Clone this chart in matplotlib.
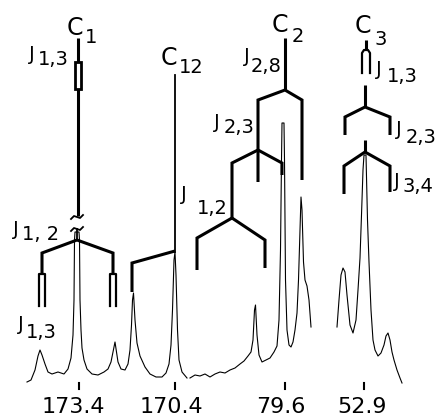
import matplotlib
matplotlib.use('Agg')
import matplotlib.pyplot as plt
from matplotlib.patches import Rectangle

FONT = 'DejaVu Sans'

# --- spectrum traces (x position, y position on the page, y grows down) ---
c1_x = [27, 31, 35, 38, 40, 42, 45, 48, 52, 58, 64, 68, 71, 73, 74, 74.5, 75, 79, 79.5, 80, 81,
        82, 84, 87, 92, 98, 104, 108, 111, 113, 115, 116.5, 118, 121, 125, 128, 130, 131.5,
        132.5, 133.5, 135, 137, 140, 145, 150, 156, 162, 166, 169, 171, 172.5, 174, 175, 176,
        177.5, 179, 182, 187]
c1_y = [382, 380, 370, 356, 350, 355, 364, 372, 374, 372, 374, 369, 358, 335, 300, 240, 232, 232,
        240, 300, 330, 348, 360, 369, 374, 375, 372, 369, 362, 352, 342, 352, 362, 369, 370, 364,
        350, 325, 300, 293, 320, 343, 356, 367, 374, 377, 377, 373, 364, 345, 310, 260, 252, 275,
        330, 360, 372, 378]

c2_x = [190, 195, 200, 205, 210, 215, 220, 225, 230, 235, 240, 244, 248, 251, 253, 254.5, 255.5,
        257, 259, 262, 266, 270, 274, 277, 279, 280.5, 281.5, 282, 284, 284.5, 285.5, 287, 289,
        291, 293, 295, 297, 298.5, 300, 301, 302, 303.5, 305, 307, 309, 311]
c2_y = [378, 375, 376, 374, 377, 374, 372, 373, 370, 368, 364, 361, 356, 352, 340, 310, 305,
        335, 355, 362, 360, 358, 352, 346, 320, 250, 160, 123, 123, 160, 280, 330, 345, 347,
        342, 330, 313, 280, 230, 197, 210, 262, 280, 286, 300, 327]

c3_x = [337, 339, 341, 343, 345, 347, 350, 353, 356, 358, 360, 361.5, 363, 364, 366, 367.5, 369,
        371, 373, 375, 378, 381, 384, 386, 388, 390, 392, 394, 397, 400, 402]
c3_y = [327, 300, 275, 268, 272, 295, 325, 333, 320, 290, 258, 215, 170, 155, 155, 220, 262,
        310, 340, 350, 356, 353, 345, 336, 333, 340, 352, 360, 370, 378, 383]

# --- coupling trees (thick strokes) ---
tree_x = [
    [78, 78], [78, 78],
    [42, 42, 77, 113, 113],
    [175, 132, 132],
    [285, 285], [258, 258, 285, 302, 302],
    [232, 232, 258, 282, 282],
    [197, 197, 232, 265, 265],
    [366, 366], [365, 365], [345, 345, 365, 390, 390],
    [365, 365], [344, 344, 365, 390, 390],
]
tree_y = [
    [38, 62], [89, 216],
    [274, 253, 240, 253, 274],
    [251, 263, 292],
    [38, 90], [182, 100, 90, 100, 180],
    [220, 163, 150, 163, 175],
    [270, 238, 218, 240, 268],
    [40, 50], [85, 107], [135, 117, 107, 117, 135],
    [140, 152], [194, 166, 152, 166, 192],
]
# double strokes drawn as narrow loops
loop_x = [[39, 39, 45, 45], [110, 110, 116, 116], [362, 362, 364, 368, 370, 370]]
loop_y = [[306, 274, 274, 306], [306, 274, 274, 306], [73, 53, 50, 50, 53, 73]]

# axis break marks on C1
break_x = [[71, 74, 77, 80, 83], [71, 74, 77, 80, 83]]
break_y = [[219, 216, 217, 218, 215], [231, 228, 229, 230, 227]]

# chemical shift ticks and labels
shift_pos = [79, 175, 285, 364]
shift_lab = ['173.4', '170.4', '79.6', '52.9']
shift_lab_x = [73, 171, 281, 362]

# labels: main text, subscript, main x, main baseline, sub x, sub baseline
labels = [
    ('C', '1', 75, 35, 91, 43),
    ('J', '1,3', 32, 60, 53, 65),
    ('C', '12', 169, 65, 191, 73),
    ('J', '1, 2', 16, 235, 41, 240),
    ('J', '1,3', 21, 330, 41, 338),
    ('C', '2', 280, 32, 298, 42),
    ('J', '2,8', 247, 62, 266, 72),
    ('J', '2,3', 217, 128, 239, 133),
    ('J', '1,2', 184, 200, 212, 214),
    ('C', '3', 363, 33, 381, 45),
    ('J', '1,3', 379, 75, 402, 82),
    ('J', '2,3', 399, 135, 421, 143),
    ('J', '3,4', 397, 187, 418, 192),
]
main_size = {'C': 17, 'J': 14}
sub_size = 14
shift_size = 16

fig = plt.figure(figsize=(4.39, 4.17), dpi=100)
ax = fig.add_axes([0, 0, 1, 1])
ax.set_xlim(0, 439)
ax.set_ylim(417, 0)
ax.axis('off')

for xs, ys in [(c1_x, c1_y), (c2_x, c2_y), (c3_x, c3_y)]:
    ax.plot(xs, ys, color='black', lw=0.8, solid_joinstyle='round')

for xs, ys in zip(tree_x, tree_y):
    ax.plot(xs, ys, color='black', lw=2.2, solid_joinstyle='miter', solid_capstyle='butt')
ax.plot([175, 175], [75, 252], color='black', lw=1.3)

for xs, ys in zip(loop_x, loop_y):
    ax.plot(xs, ys, color='black', lw=1.6)
ax.add_patch(Rectangle((75, 62), 6, 27, fill=False, ec='black', lw=2.0))

for xs, ys in zip(break_x, break_y):
    ax.plot(xs, ys, color='black', lw=1.3)
ax.plot([77, 77], [229, 240], color='black', lw=1.3)

for x in shift_pos:
    ax.plot([x, x], [383, 389], color='black', lw=1.5)
for x, t in zip(shift_lab_x, shift_lab):
    ax.text(x, 413, t, ha='center', va='baseline', fontsize=shift_size, family=FONT)

for main, sub, mx, my, sx, sy in labels:
    ax.text(mx, my, main, ha='center', va='baseline', fontsize=main_size[main], family=FONT)
    ax.text(sx, sy, sub, ha='center', va='baseline', fontsize=sub_size, family=FONT)

fig.savefig('out.png', dpi=100)
